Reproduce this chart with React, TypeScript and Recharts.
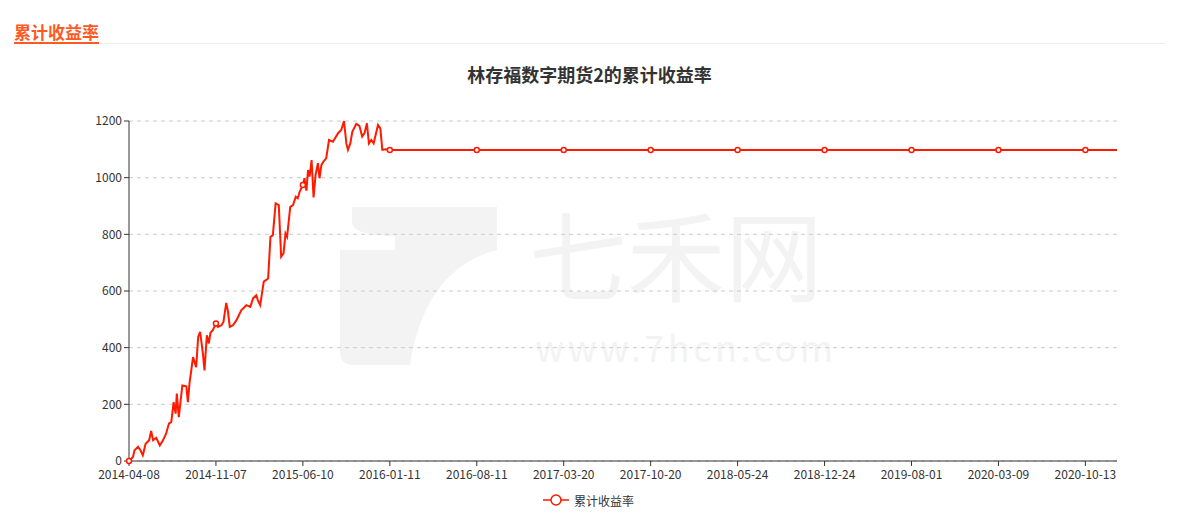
import React from 'react';
import { LineChart, Line, XAxis, YAxis, CartesianGrid } from 'recharts';

const TITLE = '林存福数字期货2的累计收益率';
const SERIES_NAME = '累计收益率';
const tickLabels = [
  '2014-04-08', '2014-11-07', '2015-06-10', '2016-01-11', '2016-08-11', '2017-03-20',
  '2017-10-20', '2018-05-24', '2018-12-24', '2019-08-01', '2020-03-09', '2020-10-13',
];
const TICK_STEP = 22; // category positions between labelled ticks
const LAST_INDEX = 250;

const xIndex = [
  0, 1.0, 1.4, 2.3, 2.9, 3.5, 4.2, 5.1, 5.6, 6.1, 6.9, 7.8, 8.6, 9.4, 10.1, 10.7, 11.3, 11.8,
  12.1, 12.6, 13.5, 14.5, 14.9, 15.3, 16.2, 17.0, 17.5, 18.0, 18.7, 19.1, 19.7, 20.2, 20.6, 21.2,
  22, 22.5, 23.4, 23.9, 24.6, 25.0, 25.5, 26.3, 27.2, 28.4, 29.7, 30.7, 31.4, 32.2, 32.6, 33.2,
  34.1, 35.2, 35.8, 36.4, 37.1, 37.9, 38.5, 39.1, 39.6, 40.0, 40.8, 41.5, 42.2, 42.7, 43.2,
  44, 44.4, 44.9, 45.3, 45.7, 46.2, 46.7, 47.2, 47.8, 48.2, 48.7, 49.2, 49.9, 50.6, 51.6, 52.9,
  53.7, 54.4, 55.0, 55.4, 56.0, 56.5, 57.5, 58.3, 59.0, 59.6, 60.2, 60.7, 61.3, 61.9, 63.0,
  63.6, 64.1, 64.9, 66, 88, 110, 132, 154, 176, 198, 220, 242, 250,
];
const cumReturn = [
  0, 14, 38, 50, 38, 20, 61, 73, 106, 73, 82, 55, 73, 97, 132, 138, 208, 167,
  238, 155, 267, 264, 208, 273, 367, 331, 438, 456, 379, 320, 444, 415, 452, 462,
  485, 473, 479, 491, 558, 532, 473, 479, 497, 532, 550, 544, 574, 585, 568, 550,
  633, 644, 791, 797, 909, 903, 721, 733, 803, 791, 897, 903, 933, 927, 951,
  974, 998, 954, 1027, 1004, 1062, 930, 1009, 1051, 998, 1045, 1057, 1068, 1133, 1127, 1157,
  1168, 1200, 1121, 1098, 1121, 1162, 1190, 1183, 1145, 1157, 1192, 1121, 1133, 1121, 1186,
  1174, 1098, 1100, 1098, 1098, 1098, 1098, 1098, 1098, 1098, 1098, 1098, 1098,
];
const yTicks = [0, 200, 400, 600, 800, 1000, 1200];

const data = xIndex.map((x, i) => ({ x, v: cumReturn[i] }));
const xTicks = tickLabels.map((_, i) => i * TICK_STEP);

const RED = '#ff1a00';
const FONT = '"Noto Sans CJK SC", "Noto Sans", sans-serif';

const Dot = (props: any) => {
  const { cx, cy, payload } = props;
  if (payload && payload.x % TICK_STEP === 0) {
    return <circle key={`d${payload.x}`} cx={cx} cy={cy} r={2.5} fill="#fff" stroke={RED} strokeWidth={1.5} />;
  }
  return <g key={`n${payload ? payload.x : 0}-${cx}`} />;
};

const Watermark = () => (
  <svg width={1179} height={530} style={{ position: 'absolute', left: 0, top: 0 }}>
    <g fill="#f3f3f3">
      <path d="M352,207 L497,207 L497,250 C450,262 420,300 410,365 L352,365 C345,365 340,360 340,352 L340,250 L395,250 L395,236 C370,236 352,232 352,222 Z" />
    </g>
    <text x={676} y={294} textAnchor="middle" fontSize={98} fill="#f3f3f3" fontFamily={FONT} fontWeight={400}>七禾网</text>
    <text x={686} y={362} textAnchor="middle" fontSize={36} fill="#f3f3f3" fontFamily={FONT} letterSpacing={3.5}>www.7hcn.com</text>
  </svg>
);

export default function App() {
  return (
    <div style={{ position: 'absolute', left: 0, top: 0, width: 1179, height: 530, background: '#fff', fontFamily: FONT }}>
      <div style={{ position: 'absolute', left: 14, top: 21, fontSize: 17, fontWeight: 700, color: '#ff5a1f', lineHeight: '22px' }}>
        {SERIES_NAME}
      </div>
      <div style={{ position: 'absolute', left: 14, top: 42, width: 85, height: 2, background: '#ff5a1f' }} />
      <div style={{ position: 'absolute', left: 99, top: 43, width: 1066, height: 1, background: '#eeeeee' }} />
      <Watermark />
      <div style={{ position: 'absolute', left: 0, top: 62, width: 1179, textAlign: 'center', fontSize: 18, fontWeight: 700, color: '#333', lineHeight: '24px' }}>
        {TITLE}
      </div>
      <div style={{ position: 'absolute', left: 0, top: 0 }}>
        <LineChart width={1179} height={530} data={data} margin={{ top: 121, right: 62, bottom: 39, left: 70 }}>
          <CartesianGrid vertical={false} stroke="#cccccc" strokeDasharray="4 4" />
          <XAxis
            dataKey="x"
            type="number"
            domain={[0, LAST_INDEX]}
            ticks={xTicks}
            interval={0}
            tickFormatter={(v: number) => tickLabels[Math.round(v / TICK_STEP)] ?? ''}
            tick={{ fill: '#333', fontSize: 12, fontFamily: FONT }}
            axisLine={{ stroke: '#333' }}
            tickLine={{ stroke: '#333' }}
            tickSize={5}
            tickMargin={4}
            height={30}
          />
          <YAxis
            type="number"
            domain={[0, 1200]}
            ticks={yTicks}
            interval={0}
            tick={{ fill: '#333', fontSize: 12, fontFamily: FONT }}
            axisLine={{ stroke: '#333' }}
            tickLine={{ stroke: '#333' }}
            tickSize={5}
            width={59}
          />
          <Line
            type="linear"
            dataKey="v"
            stroke={RED}
            strokeWidth={2}
            dot={<Dot />}
            activeDot={false}
            isAnimationActive={false}
          />
        </LineChart>
      </div>
      <div style={{ position: 'absolute', left: 543, top: 490, height: 20, display: 'flex', alignItems: 'center', fontSize: 12, color: '#333' }}>
        <svg width={26} height={14} style={{ marginRight: 5 }}>
          <line x1={0} y1={7} x2={26} y2={7} stroke={RED} strokeWidth={1.5} />
          <circle cx={13} cy={7} r={5} fill="#fff" stroke={RED} strokeWidth={1.5} />
        </svg>
        <span>{SERIES_NAME}</span>
      </div>
    </div>
  );
}
